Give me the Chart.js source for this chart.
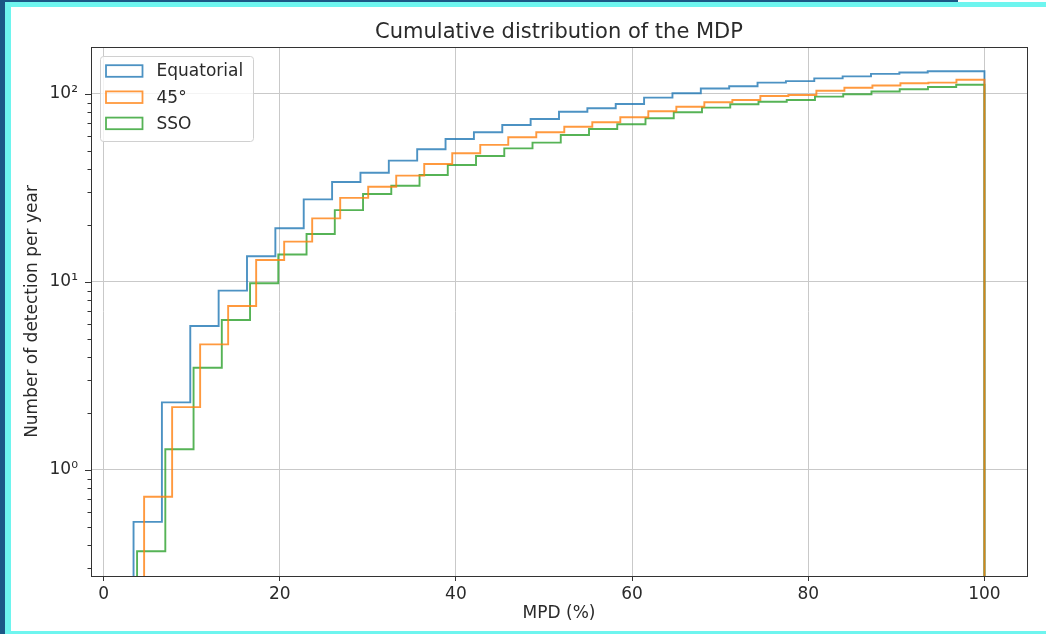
<!DOCTYPE html>
<html>
<head>
<meta charset="utf-8">
<title>Cumulative distribution of the MDP</title>
<script src="https://cdn.jsdelivr.net/npm/chart.js@4.4.1/dist/chart.umd.min.js"></script>
<style>
    body { margin: 0; width: 1046px; height: 634px; background: #1b5886; position: relative; overflow: hidden; }
    #frame { position: absolute; left: 5px; top: 2px; right: 0; bottom: 0; background: #6ef5ef; }
    #corner { position: absolute; left: 958px; top: 0; width: 88px; height: 2px; background: #ffffff; }
    #paper { position: absolute; left: 11px; top: 7px; width: 1035px; height: 624px; background: #ffffff; }
</style>
</head>
<body>
<div id="frame"></div>
<div id="corner"></div>
<div id="paper"><canvas id="mdpChart"></canvas></div>
<script>
// series names
const seriesNames = ['Equatorial', '45°', 'SSO'];

// first bin edge of each histogram (MPD %), all end at 100, 30 bins
const eqStart = 3.4;
const deg45Start = 4.6;
const ssoStart = 3.8;
const binEnd = 100;

// cumulative counts per bin (detections per year)
const eqCounts = [0.53, 2.29, 5.83, 9.0, 13.7, 19.3, 27.5, 34.0, 38.1, 44.2,
    50.8, 57.6, 62.6, 68.4, 73.6, 80.5, 84.0, 88.5, 95.6, 101,
    107, 110, 115, 117, 121, 124, 128, 130, 132, 132];
const deg45Counts = [0.72, 2.16, 4.66, 7.45, 13.1, 16.4, 21.8, 28.0, 32.1, 36.8,
    42.4, 48.4, 53.6, 58.9, 62.6, 67.0, 70.7, 75.2, 80.9, 85.6,
    90.3, 92.9, 97.5, 98.8, 104, 108, 111, 114, 115, 119];
const ssoCounts = [0.37, 1.29, 3.50, 6.28, 9.84, 14.0, 18.0, 24.1, 29.4, 32.5,
    37.1, 41.9, 46.8, 51.4, 55.1, 60.5, 65.1, 69.0, 74.3, 79.9,
    84.6, 88.2, 91.0, 92.9, 96.8, 99.6, 103, 106, 109, 112];

// axes
const xMin = -1.43, xMax = 104.83;
const xTicks = [0, 20, 40, 60, 80, 100];
const yMin = 0.273, yMax = 177.8;
const yMajorTicks = [1, 10, 100];
const yTickLabels = ['10⁰', '10¹', '10²'];
const yMinorTicks = [0.3, 0.4, 0.5, 0.6, 0.7, 0.8, 0.9, 2, 3, 4, 5, 6, 7, 8, 9,
    20, 30, 40, 50, 60, 70, 80, 90];

const colors = ['rgba(31,119,180,0.8)', 'rgba(255,127,14,0.8)', 'rgba(44,160,44,0.8)'];
const textColor = '#2a2a2a';
const gridColor = '#c9c9c9';
const floorValue = 0.01; // histogram outline goes down below the axis

Chart.defaults.font.family = "'DejaVu Sans', sans-serif";

// outline of a step histogram: up at first edge, steps, down at last edge
function stepOutline(start, counts) {
    const width = (binEnd - start) / counts.length;
    const pts = [{ x: start, y: floorValue }];
    counts.forEach((c, i) => pts.push({ x: start + i * width, y: c }));
    pts.push({ x: binEnd, y: counts[counts.length - 1] });
    pts.push({ x: binEnd, y: floorValue });
    return pts;
}

function isMajor(v) {
    return yMajorTicks.some(m => Math.abs(m - v) < 1e-9);
}

// frame of the axes + y tick marks (long for decades, short for minor)
const frameTicks = {
    id: 'frameTicks',
    afterDraw(chart) {
        const ctx = chart.ctx;
        const area = chart.chartArea;
        const yScale = chart.scales.y;
        ctx.save();
        ctx.strokeStyle = '#333333';
        ctx.lineWidth = 1;
        yScale.ticks.forEach(t => {
            const py = Math.round(yScale.getPixelForValue(t.value)) + 0.5;
            const len = isMajor(t.value) ? 6 : 3.5;
            ctx.beginPath();
            ctx.moveTo(area.left - len, py);
            ctx.lineTo(area.left, py);
            ctx.stroke();
        });
        ctx.strokeRect(Math.round(area.left) + 0.5, Math.round(area.top) + 0.5,
            Math.round(area.right - area.left), Math.round(area.bottom - area.top));
        ctx.restore();
    }
};

// legend box in the upper left corner, like matplotlib
const cornerLegend = {
    id: 'cornerLegend',
    afterDraw(chart) {
        const ctx = chart.ctx;
        const area = chart.chartArea;
        const x0 = area.left + 9, y0 = area.top + 9;
        const w = 153, h = 85;
        ctx.save();
        ctx.fillStyle = 'rgba(255,255,255,0.8)';
        ctx.strokeStyle = '#d0d0d0';
        ctx.lineWidth = 1;
        ctx.beginPath();
        ctx.roundRect(x0 + 0.5, y0 + 0.5, w, h, 3);
        ctx.fill();
        ctx.stroke();
        ctx.font = "17px 'DejaVu Sans'";
        ctx.textBaseline = 'middle';
        ctx.textAlign = 'left';
        chart.data.datasets.forEach((ds, i) => {
            const cy = y0 + 15 + i * 26.2;
            ctx.strokeStyle = ds.borderColor;
            ctx.lineWidth = 1.8;
            ctx.strokeRect(x0 + 6, cy - 5.8, 36.5, 11.6);
            ctx.fillStyle = textColor;
            ctx.fillText(ds.label, x0 + 56.5, cy + 1);
        });
        ctx.restore();
    }
};

const starts = [eqStart, deg45Start, ssoStart];
const counts = [eqCounts, deg45Counts, ssoCounts];
const drawOrder = [3, 1, 2];

const datasets = seriesNames.map((name, i) => ({
    label: name,
    data: stepOutline(starts[i], counts[i]),
    borderColor: colors[i],
    borderWidth: 1.9,
    pointRadius: 0,
    fill: false,
    stepped: 'before',
    order: drawOrder[i]
}));

const ctx = document.getElementById('mdpChart').getContext('2d');
const mdpChart = new Chart(ctx, {
    type: 'line',
    data: { datasets: datasets },
    options: {
        responsive: true,
        maintainAspectRatio: false,
        animation: false,
        layout: { padding: { left: 0, right: 19, top: 0, bottom: 0 } },
        plugins: {
            legend: { display: false },
            tooltip: { enabled: false },
            title: {
                display: true,
                fullSize: false,
                text: 'Cumulative distribution of the MDP',
                color: textColor,
                font: { size: 21, weight: 'normal' },
                padding: { top: 12.8, bottom: 2 }
            }
        },
        scales: {
            x: {
                type: 'linear',
                min: xMin,
                max: xMax,
                afterBuildTicks: scale => { scale.ticks = xTicks.map(v => ({ value: v })); },
                afterFit: scale => { scale.height = 55; },
                border: { display: false },
                grid: { color: gridColor, drawTicks: true, tickLength: 5, tickColor: '#333333' },
                ticks: { color: textColor, font: { size: 17 }, padding: 3, maxRotation: 0, autoSkip: false },
                title: {
                    display: true,
                    text: 'MPD (%)',
                    color: textColor,
                    font: { size: 17 },
                    padding: { top: 0, bottom: 6.8 }
                }
            },
            y: {
                type: 'logarithmic',
                min: yMin,
                max: yMax,
                afterBuildTicks: scale => {
                    scale.ticks = yMinorTicks.concat(yMajorTicks)
                        .sort((a, b) => a - b)
                        .map(v => ({ value: v }));
                },
                afterFit: scale => { scale.width = 80; },
                border: { display: false },
                grid: {
                    drawTicks: false,
                    color: c => (c.tick && isMajor(c.tick.value)) ? gridColor : 'rgba(0,0,0,0)'
                },
                ticks: {
                    color: textColor,
                    font: { size: 17 },
                    padding: 13,
                    autoSkip: false,
                    callback: v => {
                        const k = yMajorTicks.findIndex(m => Math.abs(m - v) < 1e-9);
                        return k >= 0 ? yTickLabels[k] : '';
                    }
                },
                title: {
                    display: true,
                    text: 'Number of detection per year',
                    color: textColor,
                    font: { size: 17 },
                    padding: { top: 11.8, bottom: 0 }
                }
            }
        }
    },
    plugins: [frameTicks, cornerLegend]
});
</script>
</body>
</html>
